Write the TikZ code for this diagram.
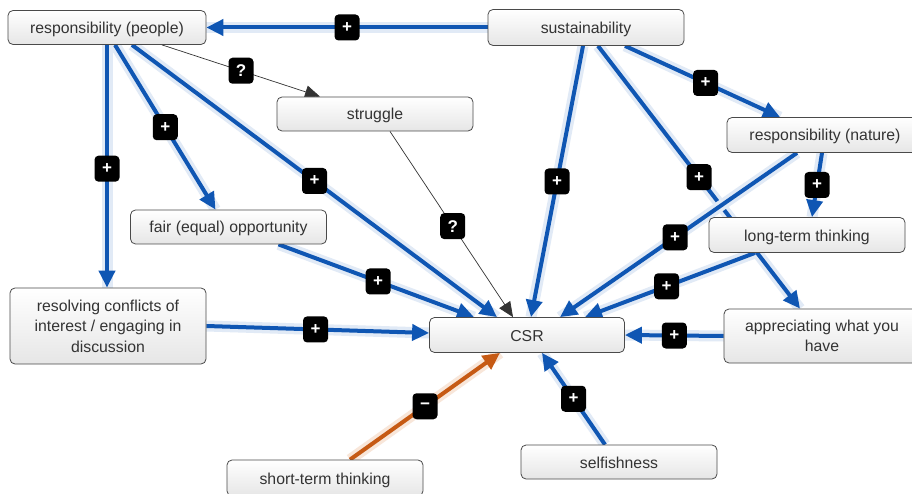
\documentclass[tikz,border=0pt]{standalone}
\usepackage{fontspec}
\setmainfont{Liberation Sans}
\usetikzlibrary{arrows.meta,backgrounds}

\definecolor{linkblue}{HTML}{0F56B3}
\definecolor{glowblue}{HTML}{E1EAF6}
\definecolor{linkorange}{HTML}{C65A14}
\definecolor{gloworange}{HTML}{F8E6D9}
\definecolor{boxline}{HTML}{4A4A4A}
\definecolor{boxtext}{HTML}{333333}
\definecolor{boxshade}{HTML}{E6E6E6}

\tikzset{
  concept/.style={draw=boxline, line width=0.8pt, rounded corners=5pt,
    top color=white, bottom color=boxshade, text=boxtext,
    minimum width=196pt, minimum height=34pt, inner sep=2pt,
    font=\fontsize{15.8}{20.5}\selectfont, align=center},
  oneline/.style={text height=13pt, text depth=1pt},
  pos link/.style={draw=linkblue, line width=4pt,
    -{Triangle[length=17pt,width=16pt]},
    preaction={draw=glowblue, line width=11pt, -}},
  neg link/.style={draw=linkorange, line width=4pt,
    -{Triangle[length=17pt,width=16pt]},
    preaction={draw=gloworange, line width=11pt, -}},
  weak link/.style={draw=boxtext, line width=0.7pt,
    -{Triangle[length=15pt,width=13pt]}},
  sign/.style={fill=black, rounded corners=4pt, minimum width=25pt,
    minimum height=26pt, inner sep=0pt, text=white,
    font=\fontsize{17}{17}\selectfont\bfseries},
}

\begin{document}
\begin{tikzpicture}[x=1pt,y=-1pt]
  \useasboundingbox (0,0) rectangle (912,494);

  % concepts
  \node[concept,oneline,minimum width=198pt] (rp)  at (107,27.5)  {responsibility (people)};
  \node[concept,oneline,minimum height=36pt] (sus) at (586,27.5)  {sustainability};
  \node[concept,oneline] (str) at (375,114)  {struggle};
  \node[concept,oneline,minimum height=35pt] (rn)  at (825,135)  {responsibility (nature)};
  \node[concept,oneline] (fair) at (228.5,227) {fair (equal) opportunity};
  \node[concept,oneline,minimum height=35pt] (lt)  at (807,235)  {long-term thinking};
  \node[concept,minimum height=76pt] (res) at (108,326)
    {resolving conflicts of\\interest / engaging in\\discussion};
  \node[concept,oneline,minimum width=195pt,minimum height=35pt] (csr) at (527,335) {CSR};
  \node[concept,minimum height=54pt] (app) at (822,336) {appreciating what you\\have};
  \node[concept,oneline,minimum height=36pt] (st)  at (325,478)  {short-term thinking};
  \node[concept,oneline] (sel) at (619,462)  {selfishness};

  % influence links, kept behind the concept boxes
  \begin{scope}[on background layer]
    \fill[white] (0,0) rectangle (912,494);
    \path[pos link] (sus.west) -- node[sign,pos=0.5]{+} (rp.east);
    \path[weak link] ([xshift=55pt]rp.south) -- node[sign,pos=0.5]{?} ([xshift=-55pt]str.north);
    \path[pos link] (rp.south) -- node[sign,pos=0.51]{+} (rp.south |- res.north);
    \path[pos link] ([xshift=8pt]rp.south) -- node[sign,pos=0.5]{+} ([xshift=-13pt]fair.north);
    \path[pos link] ([xshift=25pt]rp.south) -- node[sign,pos=0.5]{+} ([xshift=-30pt]csr.north);
    \path[weak link] ([xshift=15pt]str.south) -- node[sign,pos=0.51]{?} ([xshift=-14pt]csr.north);
    \path[pos link] ([xshift=-3pt]sus.south) -- node[sign,pos=0.5]{+} ([xshift=4pt]csr.north);
    \path[pos link] ([xshift=39pt]sus.south) -- node[sign,pos=0.52]{+} ([xshift=-45pt]rn.north);
    \path[pos link] ([xshift=12pt]sus.south) -- node[sign,pos=0.5]{+} ([xshift=-22pt]app.north);
    \path[pos link] ([xshift=-28pt]rn.south) -- node[sign,pos=0.514]{+} ([xshift=33pt]csr.north);
    \path[pos link] ([xshift=-3pt]rn.south) -- node[sign,pos=0.5]{+} ([xshift=5pt]lt.north);
    \path[pos link] ([xshift=-52pt]lt.south) -- node[sign,pos=0.52]{+} ([xshift=58pt]csr.north);
    \path[pos link] ([xshift=50pt]fair.south) -- node[sign,pos=0.51]{+} ([xshift=-53pt]csr.north);
    \path[pos link] (res.east) -- node[sign,pos=0.49]{+} ([yshift=2pt]csr.west);
    \path[pos link] (app.west) -- node[sign,pos=0.5]{+} (csr.east);
    \path[neg link] ([xshift=25pt]st.north) -- node[sign,pos=0.5]{−} ([xshift=-27pt]csr.south);
    \path[pos link] ([xshift=-14pt]sel.north) -- node[sign,pos=0.5]{+} ([xshift=15pt]csr.south);
  \end{scope}
\end{tikzpicture}
\end{document}
